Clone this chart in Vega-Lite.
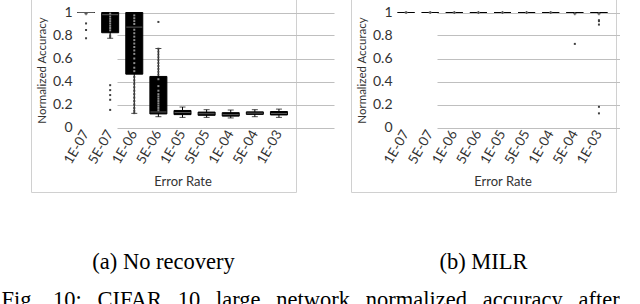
{
  "$schema": "https://vega.github.io/schema/vega-lite/v6.json",
  "padding": {"left": 1, "top": -6, "right": 0, "bottom": -8},
  "config": {
    "view": {"stroke": "#d0d0d0", "strokeWidth": 1},
    "axisY": {"offset": -43, "domain": false, "ticks": false, "grid": true, "gridColor": "#bfbfbf", "gridWidth": 1, "gridOpacity": 1, "labelOverlap": false, "labelFlush": false, "labelBound": false, "labelFont": "Lato", "labelFontSize": 14, "labelColor": "#333333", "labelPadding": 2, "titleFont": "Lato", "titleFontSize": 11.5, "titleFontWeight": "normal", "titleColor": "#333333", "titlePadding": 5},
    "axisX": {"offset": -64, "domain": false, "ticks": false, "grid": false, "labelAngle": -60, "labelOverlap": false, "labelFont": "Lato", "labelFontSize": 13.5, "labelColor": "#333333", "labelPadding": 3, "titleFont": "Lato", "titleFontSize": 13, "titleFontWeight": "normal", "titleColor": "#333333", "titlePadding": 10}
  },
  "title": {"text": "Fig.\u2002\u200910:\u2002\u2009CIFAR\u2002\u200910\u2002\u2009large\u2002\u2009network\u2002\u2009normalized\u2002\u2009accuracy\u2002\u2009after", "orient": "bottom", "anchor": "start", "dx": -29, "offset": 33, "baseline": "alphabetic", "font": "Liberation Serif", "fontSize": 22.5, "fontWeight": "normal", "color": "#000000"},
  "datasets": {
    "boxes": [
      {"panel": "a", "rate": "1E-07", "lo": 1, "q1": 1, "med": 1, "q3": 1, "hi": 1},
      {"panel": "a", "rate": "5E-07", "lo": 0.776, "q1": 0.824, "med": 0.981, "q3": 1, "hi": 1},
      {"panel": "a", "rate": "1E-06", "lo": 0.123, "q1": 0.464, "med": 0.873, "q3": 1, "hi": 1},
      {"panel": "a", "rate": "5E-06", "lo": 0.094, "q1": 0.118, "med": 0.135, "q3": 0.444, "hi": 0.687},
      {"panel": "a", "rate": "1E-05", "lo": 0.088, "q1": 0.112, "med": 0.13, "q3": 0.148, "hi": 0.178},
      {"panel": "a", "rate": "5E-05", "lo": 0.088, "q1": 0.106, "med": 0.12, "q3": 0.134, "hi": 0.155},
      {"panel": "a", "rate": "1E-04", "lo": 0.083, "q1": 0.099, "med": 0.112, "q3": 0.129, "hi": 0.152},
      {"panel": "a", "rate": "5E-04", "lo": 0.094, "q1": 0.114, "med": 0.125, "q3": 0.136, "hi": 0.155},
      {"panel": "a", "rate": "1E-03", "lo": 0.088, "q1": 0.109, "med": 0.122, "q3": 0.139, "hi": 0.16},
      {"panel": "b", "rate": "1E-07", "lo": 1, "q1": 1, "med": 1, "q3": 1, "hi": 1},
      {"panel": "b", "rate": "5E-07", "lo": 1, "q1": 1, "med": 1, "q3": 1, "hi": 1},
      {"panel": "b", "rate": "1E-06", "lo": 1, "q1": 1, "med": 1, "q3": 1, "hi": 1},
      {"panel": "b", "rate": "5E-06", "lo": 1, "q1": 1, "med": 1, "q3": 1, "hi": 1},
      {"panel": "b", "rate": "1E-05", "lo": 1, "q1": 1, "med": 1, "q3": 1, "hi": 1},
      {"panel": "b", "rate": "5E-05", "lo": 1, "q1": 1, "med": 1, "q3": 1, "hi": 1},
      {"panel": "b", "rate": "1E-04", "lo": 1, "q1": 1, "med": 1, "q3": 1, "hi": 1},
      {"panel": "b", "rate": "5E-04", "lo": 1, "q1": 1, "med": 1, "q3": 1, "hi": 1},
      {"panel": "b", "rate": "1E-03", "lo": 1, "q1": 1, "med": 1, "q3": 1, "hi": 1}
    ],
    "pts": [
      {"panel": "a", "rate": "1E-07", "kind": "mean", "v": 0.99},
      {"panel": "a", "rate": "1E-07", "kind": "out", "v": 0.905},
      {"panel": "a", "rate": "1E-07", "kind": "out", "v": 0.848},
      {"panel": "a", "rate": "1E-07", "kind": "out", "v": 0.776},
      {"panel": "a", "rate": "5E-07", "kind": "out", "v": 0.368},
      {"panel": "a", "rate": "5E-07", "kind": "out", "v": 0.325},
      {"panel": "a", "rate": "5E-07", "kind": "out", "v": 0.282},
      {"panel": "a", "rate": "5E-07", "kind": "out", "v": 0.241},
      {"panel": "a", "rate": "5E-07", "kind": "out", "v": 0.153},
      {"panel": "a", "rate": "5E-07", "kind": "out", "v": 0.8},
      {"panel": "a", "rate": "5E-07", "kind": "out", "v": 0.785},
      {"panel": "a", "rate": "5E-07", "kind": "in", "v": 0.99},
      {"panel": "a", "rate": "5E-07", "kind": "in", "v": 0.965},
      {"panel": "a", "rate": "5E-07", "kind": "in", "v": 0.945},
      {"panel": "a", "rate": "5E-07", "kind": "in", "v": 0.925},
      {"panel": "a", "rate": "5E-07", "kind": "in", "v": 0.905},
      {"panel": "a", "rate": "5E-07", "kind": "in", "v": 0.885},
      {"panel": "a", "rate": "5E-07", "kind": "in", "v": 0.865},
      {"panel": "a", "rate": "5E-07", "kind": "in", "v": 0.845},
      {"panel": "a", "rate": "1E-06", "kind": "in", "v": 0.975},
      {"panel": "a", "rate": "1E-06", "kind": "in", "v": 0.95},
      {"panel": "a", "rate": "1E-06", "kind": "in", "v": 0.925},
      {"panel": "a", "rate": "1E-06", "kind": "in", "v": 0.9},
      {"panel": "a", "rate": "1E-06", "kind": "in", "v": 0.85},
      {"panel": "a", "rate": "1E-06", "kind": "in", "v": 0.82},
      {"panel": "a", "rate": "1E-06", "kind": "in", "v": 0.79},
      {"panel": "a", "rate": "1E-06", "kind": "in", "v": 0.76},
      {"panel": "a", "rate": "1E-06", "kind": "in", "v": 0.73},
      {"panel": "a", "rate": "1E-06", "kind": "in", "v": 0.7},
      {"panel": "a", "rate": "1E-06", "kind": "in", "v": 0.67},
      {"panel": "a", "rate": "1E-06", "kind": "in", "v": 0.64},
      {"panel": "a", "rate": "1E-06", "kind": "in", "v": 0.6},
      {"panel": "a", "rate": "1E-06", "kind": "in", "v": 0.56},
      {"panel": "a", "rate": "1E-06", "kind": "in", "v": 0.52},
      {"panel": "a", "rate": "1E-06", "kind": "in", "v": 0.49},
      {"panel": "a", "rate": "1E-06", "kind": "out", "v": 0.44},
      {"panel": "a", "rate": "1E-06", "kind": "out", "v": 0.41},
      {"panel": "a", "rate": "1E-06", "kind": "out", "v": 0.38},
      {"panel": "a", "rate": "1E-06", "kind": "out", "v": 0.35},
      {"panel": "a", "rate": "1E-06", "kind": "out", "v": 0.32},
      {"panel": "a", "rate": "1E-06", "kind": "out", "v": 0.29},
      {"panel": "a", "rate": "1E-06", "kind": "out", "v": 0.26},
      {"panel": "a", "rate": "1E-06", "kind": "out", "v": 0.23},
      {"panel": "a", "rate": "1E-06", "kind": "out", "v": 0.2},
      {"panel": "a", "rate": "1E-06", "kind": "out", "v": 0.17},
      {"panel": "a", "rate": "1E-06", "kind": "out", "v": 0.145},
      {"panel": "a", "rate": "1E-06", "kind": "out", "v": 0.125},
      {"panel": "a", "rate": "5E-06", "kind": "out", "v": 0.918},
      {"panel": "a", "rate": "5E-06", "kind": "out", "v": 0.685},
      {"panel": "a", "rate": "5E-06", "kind": "out", "v": 0.66},
      {"panel": "a", "rate": "5E-06", "kind": "out", "v": 0.635},
      {"panel": "a", "rate": "5E-06", "kind": "out", "v": 0.61},
      {"panel": "a", "rate": "5E-06", "kind": "out", "v": 0.585},
      {"panel": "a", "rate": "5E-06", "kind": "out", "v": 0.56},
      {"panel": "a", "rate": "5E-06", "kind": "out", "v": 0.535},
      {"panel": "a", "rate": "5E-06", "kind": "out", "v": 0.51},
      {"panel": "a", "rate": "5E-06", "kind": "out", "v": 0.485},
      {"panel": "a", "rate": "5E-06", "kind": "out", "v": 0.46},
      {"panel": "a", "rate": "5E-06", "kind": "in", "v": 0.42},
      {"panel": "a", "rate": "5E-06", "kind": "in", "v": 0.36},
      {"panel": "a", "rate": "5E-06", "kind": "in", "v": 0.32},
      {"panel": "a", "rate": "5E-06", "kind": "in", "v": 0.29},
      {"panel": "a", "rate": "5E-06", "kind": "in", "v": 0.27},
      {"panel": "a", "rate": "5E-06", "kind": "in", "v": 0.25},
      {"panel": "a", "rate": "5E-06", "kind": "in", "v": 0.23},
      {"panel": "a", "rate": "5E-06", "kind": "in", "v": 0.21},
      {"panel": "a", "rate": "5E-06", "kind": "in", "v": 0.19},
      {"panel": "a", "rate": "5E-06", "kind": "in", "v": 0.17},
      {"panel": "a", "rate": "5E-06", "kind": "in", "v": 0.15},
      {"panel": "b", "rate": "1E-07", "kind": "mean", "v": 1},
      {"panel": "b", "rate": "5E-07", "kind": "mean", "v": 1},
      {"panel": "b", "rate": "1E-06", "kind": "mean", "v": 1},
      {"panel": "b", "rate": "5E-06", "kind": "mean", "v": 1},
      {"panel": "b", "rate": "1E-05", "kind": "mean", "v": 1},
      {"panel": "b", "rate": "5E-05", "kind": "mean", "v": 1},
      {"panel": "b", "rate": "1E-04", "kind": "mean", "v": 1},
      {"panel": "b", "rate": "5E-04", "kind": "mean", "v": 0.99},
      {"panel": "b", "rate": "1E-03", "kind": "mean", "v": 0.99},
      {"panel": "b", "rate": "5E-04", "kind": "out", "v": 0.727},
      {"panel": "b", "rate": "1E-03", "kind": "out", "v": 0.933},
      {"panel": "b", "rate": "1E-03", "kind": "out", "v": 0.925},
      {"panel": "b", "rate": "1E-03", "kind": "out", "v": 0.895},
      {"panel": "b", "rate": "1E-03", "kind": "out", "v": 0.18},
      {"panel": "b", "rate": "1E-03", "kind": "out", "v": 0.123}
    ]
  },
  "resolve": {"scale": {"x": "independent", "y": "independent", "color": "independent"}},
  "spacing": 55,
  "bounds": "flush",
  "hconcat": [
    {
      "width": 265, "height": 197,
      "title": {"text": "(a) No recovery", "orient": "bottom", "offset": 77, "baseline": "alphabetic", "font": "Liberation Serif", "fontSize": 22.5, "fontWeight": "normal", "color": "#000000"},
      "layer": [
        {"data": {"name": "boxes"}, "transform": [{"filter": "datum.panel == 'a'"}],
         "mark": {"type": "rule", "color": "#000000", "strokeWidth": 1},
         "encoding": {
           "x": {"field": "rate", "type": "nominal", "title": "Error Rate", "scale": {"type": "band", "domain": ["1E-07","5E-07","1E-06","5E-06","1E-05","5E-05","1E-04","5E-04","1E-03"], "range": [43, 260], "paddingInner": 0, "paddingOuter": 0}},
           "y": {"field": "lo", "type": "quantitative", "title": "Normalized Accuracy", "scale": {"domain": [0, 1], "range": [132.5, 17.5], "nice": false, "zero": false}, "axis": {"values": [0, 0.2, 0.4, 0.6, 0.8, 1], "format": "~g"}},
           "y2": {"field": "hi"}
         }},
        {"data": {"name": "boxes"}, "transform": [{"filter": "datum.panel == 'a'"}],
         "mark": {"type": "tick", "color": "#000000", "thickness": 1, "size": 6},
         "encoding": {
           "x": {"field": "rate", "type": "nominal", "title": "Error Rate"},
           "y": {"field": "lo", "type": "quantitative", "title": "Normalized Accuracy", "axis": {"values": [0, 0.2, 0.4, 0.6, 0.8, 1], "format": "~g"}}
         }},
        {"data": {"name": "boxes"}, "transform": [{"filter": "datum.panel == 'a'"}],
         "mark": {"type": "tick", "color": "#000000", "thickness": 1, "size": 6},
         "encoding": {
           "x": {"field": "rate", "type": "nominal", "title": "Error Rate"},
           "y": {"field": "hi", "type": "quantitative", "title": "Normalized Accuracy", "axis": {"values": [0, 0.2, 0.4, 0.6, 0.8, 1], "format": "~g"}}
         }},
        {"data": {"name": "boxes"}, "transform": [{"filter": "datum.panel == 'a'"}],
         "mark": {"type": "bar", "color": "#000000", "stroke": "#000000", "strokeWidth": 1, "size": 17},
         "encoding": {
           "x": {"field": "rate", "type": "nominal", "title": "Error Rate"},
           "y": {"field": "q1", "type": "quantitative", "title": "Normalized Accuracy", "axis": {"values": [0, 0.2, 0.4, 0.6, 0.8, 1], "format": "~g"}},
           "y2": {"field": "q3"}
         }},
        {"data": {"name": "boxes"}, "transform": [{"filter": "datum.panel == 'a'"}],
         "mark": {"type": "tick", "color": "#808080", "thickness": 1, "size": 16},
         "encoding": {
           "x": {"field": "rate", "type": "nominal", "title": "Error Rate"},
           "y": {"field": "med", "type": "quantitative", "title": "Normalized Accuracy", "axis": {"values": [0, 0.2, 0.4, 0.6, 0.8, 1], "format": "~g"}}
         }},
        {"data": {"name": "pts"}, "transform": [{"filter": "datum.panel == 'a' && datum.kind != 'mean'"}],
         "mark": {"type": "point", "shape": "square", "filled": true, "size": 4, "opacity": 1},
         "encoding": {
           "x": {"field": "rate", "type": "nominal", "title": "Error Rate"},
           "y": {"field": "v", "type": "quantitative", "title": "Normalized Accuracy", "axis": {"values": [0, 0.2, 0.4, 0.6, 0.8, 1], "format": "~g"}},
           "color": {"field": "kind", "type": "nominal", "scale": {"domain": ["in", "out"], "range": ["#8c8c8c", "#404040"]}, "legend": null}
         }},
        {"data": {"name": "pts"}, "transform": [{"filter": "datum.panel == 'a' && datum.kind == 'mean'"}],
         "mark": {"type": "point", "shape": "cross", "filled": true, "size": 10, "color": "#595959", "opacity": 1},
         "encoding": {
           "x": {"field": "rate", "type": "nominal", "title": "Error Rate"},
           "y": {"field": "v", "type": "quantitative", "title": "Normalized Accuracy", "axis": {"values": [0, 0.2, 0.4, 0.6, 0.8, 1], "format": "~g"}}
         }}
      ]
    },
    {
      "width": 265, "height": 197,
      "title": {"text": "(b) MILR", "orient": "bottom", "offset": 77, "baseline": "alphabetic", "font": "Liberation Serif", "fontSize": 22.5, "fontWeight": "normal", "color": "#000000"},
      "layer": [
        {"data": {"name": "boxes"}, "transform": [{"filter": "datum.panel == 'b'"}],
         "mark": {"type": "rule", "color": "#000000", "strokeWidth": 1},
         "encoding": {
           "x": {"field": "rate", "type": "nominal", "title": "Error Rate", "scale": {"type": "band", "domain": ["1E-07","5E-07","1E-06","5E-06","1E-05","5E-05","1E-04","5E-04","1E-03"], "range": [43, 260], "paddingInner": 0, "paddingOuter": 0}},
           "y": {"field": "lo", "type": "quantitative", "title": "Normalized Accuracy", "scale": {"domain": [0, 1], "range": [132.5, 17.5], "nice": false, "zero": false}, "axis": {"values": [0, 0.2, 0.4, 0.6, 0.8, 1], "format": "~g"}},
           "y2": {"field": "hi"}
         }},
        {"data": {"name": "boxes"}, "transform": [{"filter": "datum.panel == 'b'"}],
         "mark": {"type": "bar", "color": "#000000", "stroke": "#000000", "strokeWidth": 1, "size": 17},
         "encoding": {
           "x": {"field": "rate", "type": "nominal", "title": "Error Rate"},
           "y": {"field": "q1", "type": "quantitative", "title": "Normalized Accuracy", "axis": {"values": [0, 0.2, 0.4, 0.6, 0.8, 1], "format": "~g"}},
           "y2": {"field": "q3"}
         }},
        {"data": {"name": "pts"}, "transform": [{"filter": "datum.panel == 'b' && datum.kind != 'mean'"}],
         "mark": {"type": "point", "shape": "square", "filled": true, "size": 4, "opacity": 1, "color": "#404040"},
         "encoding": {
           "x": {"field": "rate", "type": "nominal", "title": "Error Rate"},
           "y": {"field": "v", "type": "quantitative", "title": "Normalized Accuracy", "axis": {"values": [0, 0.2, 0.4, 0.6, 0.8, 1], "format": "~g"}}
         }},
        {"data": {"name": "pts"}, "transform": [{"filter": "datum.panel == 'b' && datum.kind == 'mean'"}],
         "mark": {"type": "point", "shape": "cross", "filled": true, "size": 10, "color": "#595959", "opacity": 1},
         "encoding": {
           "x": {"field": "rate", "type": "nominal", "title": "Error Rate"},
           "y": {"field": "v", "type": "quantitative", "title": "Normalized Accuracy", "axis": {"values": [0, 0.2, 0.4, 0.6, 0.8, 1], "format": "~g"}}
         }}
      ]
    }
  ]
}
